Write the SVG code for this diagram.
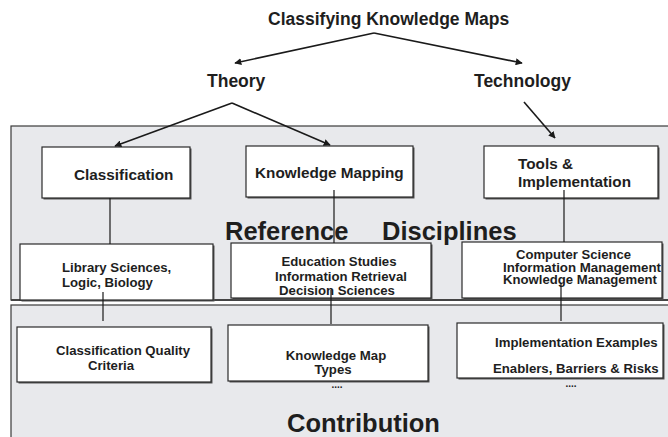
<svg xmlns="http://www.w3.org/2000/svg" width="668" height="437" viewBox="0 0 668 437">
  <defs>
    <marker id="arrow" viewBox="0 0 10 10" refX="9" refY="5" markerWidth="7" markerHeight="7" markerUnits="userSpaceOnUse" orient="auto">
      <path d="M0,0 L10,5 L0,10 z" fill="#1a1a1a"/>
    </marker>
  </defs>
  <style>
    text { font-family: "Liberation Sans", Arial, sans-serif; font-weight: bold; fill: #1e1e1e; }
    .panel { fill: #e8e9ec; stroke: #3a3a3a; stroke-width: 1.2; }
    .box { fill: #ffffff; stroke: #2a2a2a; stroke-width: 1.2; }
    .shadow { fill: #555555; }
    .edge { stroke: #1a1a1a; stroke-width: 1.6; fill: none; }
    .link { stroke: #1a1a1a; stroke-width: 1.2; fill: none; }
    .head { font-size: 17.5px; }
    .big { font-size: 25.5px; }
    .top { font-size: 15.3px; }
    .low { font-size: 13.2px; }
    .dots { font-size: 10px; }
  </style>

  <rect width="668" height="437" fill="#ffffff"/>

  <!-- headings -->
  <g id="root">
    <text x="268" y="25" class="head">Classifying Knowledge Maps</text>
  </g>
  <g id="theory">
    <text x="207" y="87" class="head">Theory</text>
  </g>
  <g id="technology">
    <text x="474" y="87" class="head">Technology</text>
  </g>

  <!-- reference disciplines panel -->
  <g id="reference-panel">
    <rect x="11" y="126" width="670" height="174" class="panel"/>
    <line x1="11" y1="300" x2="668" y2="300" stroke="#444" stroke-width="2"/>
    <text x="225" y="240" class="big">Reference</text>
    <text x="382" y="240" class="big">Disciplines</text>
  </g>

  <!-- contribution panel -->
  <g id="contribution-panel">
    <rect x="11" y="305" width="670" height="140" class="panel"/>
    <text x="287" y="432" class="big" font-size="26.5">Contribution</text>
  </g>

  <g id="classification">
    <rect x="43.5" y="148.5" width="148" height="51" class="shadow"/>
    <rect x="42" y="147" width="148" height="51" class="box"/>
    <text x="74" y="180" class="top">Classification</text>
  </g>
  <g id="knowledge-mapping">
    <rect x="247.5" y="147.5" width="167" height="51" class="shadow"/>
    <rect x="246" y="146" width="167" height="51" class="box"/>
    <text x="255" y="178" class="top">Knowledge Mapping</text>
  </g>
  <g id="tools">
    <rect x="485.5" y="147.5" width="174" height="52" class="shadow"/>
    <rect x="484" y="146" width="174" height="52" class="box"/>
    <text x="518" y="169" class="top">Tools &amp;</text>
    <text x="518" y="187" class="top">Implementation</text>
  </g>

  <g id="library-sciences">
    <rect x="21.5" y="245.5" width="193" height="56" class="shadow"/>
    <rect x="20" y="244" width="193" height="56" class="box"/>
    <text x="62" y="272" class="low">Library Sciences,</text>
    <text x="62" y="287" class="low">Logic, Biology</text>
  </g>
  <g id="education-studies">
    <rect x="232.5" y="244.5" width="200" height="55" class="shadow"/>
    <rect x="231" y="243" width="200" height="55" class="box"/>
    <text x="339" y="266" class="low" text-anchor="middle">Education Studies</text>
    <text x="341" y="281" class="low" text-anchor="middle">Information Retrieval</text>
    <text x="337" y="295" class="low" text-anchor="middle">Decision Sciences</text>
  </g>
  <g id="computer-science">
    <rect x="463.5" y="243.5" width="200" height="56" class="shadow"/>
    <rect x="462" y="242" width="200" height="56" class="box"/>
    <text x="516" y="259" font-size="12.2" textLength="115" lengthAdjust="spacingAndGlyphs">Computer Science</text>
    <text x="503" y="271.5" font-size="12.2" textLength="158" lengthAdjust="spacingAndGlyphs">Information Management</text>
    <text x="503" y="284" font-size="12.2" textLength="154" lengthAdjust="spacingAndGlyphs">Knowledge Management</text>
  </g>

  <g id="quality-criteria">
    <rect x="18.5" y="328.5" width="194" height="55" class="shadow"/>
    <rect x="17" y="327" width="194" height="55" class="box"/>
    <text x="123" y="355" class="low" text-anchor="middle">Classification Quality</text>
    <text x="111" y="370" class="low" text-anchor="middle">Criteria</text>
  </g>
  <g id="map-types">
    <text x="337" y="388" class="dots" text-anchor="middle">....</text>
    <rect x="229.5" y="326.5" width="200" height="56" class="shadow"/>
    <rect x="228" y="325" width="200" height="56" class="box"/>
    <text x="336" y="360" class="low" text-anchor="middle">Knowledge Map</text>
    <text x="333" y="374" class="low" text-anchor="middle">Types</text>
  </g>
  <g id="implementation-examples">
    <text x="571" y="387" class="dots" text-anchor="middle">....</text>
    <rect x="458.5" y="324.5" width="206" height="55" class="shadow"/>
    <rect x="457" y="323" width="206" height="55" class="box"/>
    <text x="495" y="347" class="low">Implementation Examples</text>
    <text x="493" y="373" class="low">Enablers, Barriers &amp; Risks</text>
  </g>

  <!-- connectors -->
  <g id="connectors">
    <line x1="374" y1="33" x2="235" y2="63" class="edge" marker-end="url(#arrow)"/>
    <line x1="374" y1="33" x2="522" y2="63" class="edge" marker-end="url(#arrow)"/>
    <line x1="232" y1="103" x2="115" y2="146" class="edge" marker-end="url(#arrow)"/>
    <line x1="232" y1="103" x2="330" y2="145" class="edge" marker-end="url(#arrow)"/>
    <line x1="524" y1="102" x2="555" y2="138" class="edge" marker-end="url(#arrow)"/>
    <line x1="110" y1="198" x2="110" y2="244" class="link"/>
    <line x1="334" y1="190" x2="334" y2="243" class="link"/>
    <line x1="564" y1="190" x2="564" y2="242" class="link"/>
    <line x1="103" y1="292" x2="103" y2="321" class="link"/>
    <line x1="331" y1="290" x2="331" y2="324" class="link"/>
    <line x1="561" y1="283" x2="561" y2="321" class="link"/>
  </g>
</svg>
